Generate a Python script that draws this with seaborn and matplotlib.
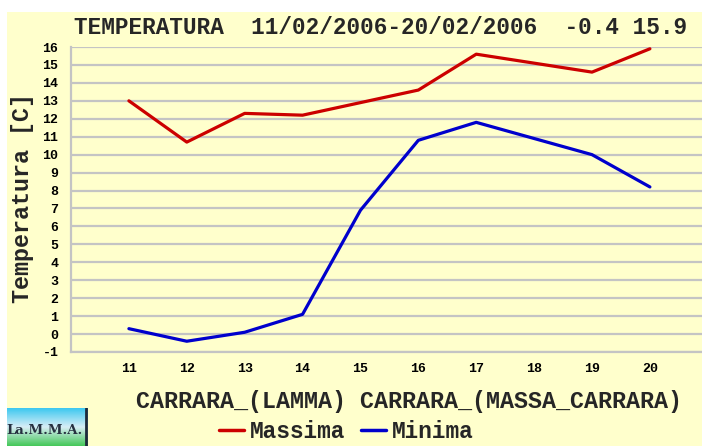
import numpy as np
import pandas as pd
import matplotlib
matplotlib.use("Agg")
import matplotlib.pyplot as plt
from matplotlib.patches import Rectangle
import seaborn as sns

# daily values
giorni = [11, 12, 13, 14, 15, 16, 17, 18, 19, 20]
massima = [13.0, 10.7, 12.3, 12.2, 12.9, 13.6, 15.6, 15.1, 14.6, 15.9]
minima = [0.3, -0.4, 0.1, 1.1, 6.9, 10.8, 11.8, 10.9, 10.0, 8.2]
serie = ["Massima", "Minima"]
colori = ["#CC0000", "#0000CC"]
y_ticks = list(range(-1, 17))

df = pd.DataFrame({
    "giorno": giorni * 2,
    "temp": massima + minima,
    "serie": [serie[0]] * len(giorni) + [serie[1]] * len(giorni),
})

W, H = 702, 446
sns.set_theme(style="white")
plt.rcParams["font.family"] = ["Liberation Mono", "DejaVu Sans Mono"]
plt.rcParams["font.weight"] = "bold"

giallo = "#FFFFCC"
grigio = "#C4C4C4"

fig = plt.figure(figsize=(W / 100, H / 100), dpi=100, facecolor="white")
fig.patches.append(Rectangle((7 / W, 0), 1, 1 - 12 / H, transform=fig.transFigure,
                             facecolor=giallo, edgecolor="none", zorder=-10))

ax = fig.add_axes([71 / W, (H - 352) / H, 631 / W, 305 / H])
ax.set_facecolor(giallo)

sns.lineplot(data=df, x="giorno", y="temp", hue="serie", palette=colori,
             linewidth=2.3, ax=ax, legend=False)

ax.set_xlim(10, 20.9)
ax.set_ylim(-1, 16)
ax.set_xticks(giorni)
ax.set_yticks(y_ticks)
ax.set_xticklabels([str(g) for g in giorni])
ax.set_yticklabels([str(v) for v in y_ticks])
ax.yaxis.grid(True, color=grigio, linewidth=1.6)
ax.xaxis.grid(False)
ax.set_axisbelow(True)
for s in ["top", "right"]:
    ax.spines[s].set_visible(False)
for s in ["left", "bottom"]:
    ax.spines[s].set_color(grigio)
    ax.spines[s].set_linewidth(1.6)
ax.tick_params(axis="x", length=4, width=1.2, color=grigio, pad=4,
               labelsize=9.5, labelcolor="black")
ax.tick_params(axis="y", length=0, pad=9, labelsize=9.5, labelcolor="black")
ax.set_xlabel("")
ax.set_ylabel("")

fig.text(74 / W, (H - 34) / H, "TEMPERATURA  11/02/2006-20/02/2006  -0.4 15.9",
         fontsize=16.4, fontweight="bold", ha="left", va="baseline")
fig.text(136 / W, (H - 408) / H, "CARRARA_(LAMMA) CARRARA_(MASSA_CARRARA)",
         fontsize=16.8, fontweight="bold", ha="left", va="baseline")
fig.text(23 / W, (H - 198) / H, "Temperatura [C]", rotation=90,
         fontsize=16.8, fontweight="bold", ha="center", va="center")

handles = [plt.Line2D([], [], color=c, linewidth=2.5) for c in colori]
fig.legend(handles, serie, loc="upper left", bbox_to_anchor=(219 / W, (H - 420) / H),
           ncol=2, frameon=False, fontsize=16.4, handlelength=1.1,
           handletextpad=0.25, columnspacing=0.7, borderpad=0, borderaxespad=0)

# logo LaMMA
lax = fig.add_axes([7 / W, 0, 81 / W, 38 / H])
grad = np.linspace(0, 1, 50).reshape(-1, 1)
cmap = matplotlib.colors.LinearSegmentedColormap.from_list(
    "logo", ["#3EC8F0", "#D8EEF6", "#46C85A"])
lax.imshow(grad, aspect="auto", cmap=cmap, extent=[0, 1, 0, 1])
lax.text(0.46, 0.42, "La.M.M.A.", fontsize=9.5, color="#263040",
         family="DejaVu Serif", fontweight="bold", ha="center", va="center")
lax.axvline(0.97, color="#1E2A3A", linewidth=2)
lax.set_xlim(0, 1)
lax.set_ylim(0, 1)
lax.axis("off")

fig.savefig("out.png", dpi=100, facecolor="white")
